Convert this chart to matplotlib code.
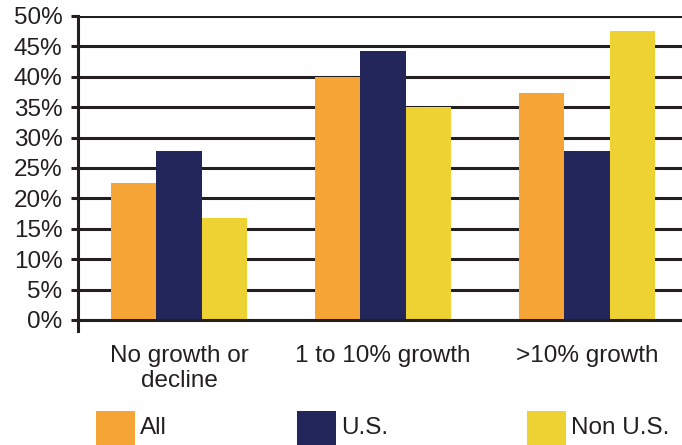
#!/usr/bin/env python3
"""Grouped bar chart: share of respondents by expected growth"""

import numpy as np
import matplotlib
matplotlib.use('Agg')
import matplotlib.pyplot as plt
from matplotlib.patches import Rectangle

categories = ['No growth or\ndecline', '1 to 10% growth', '>10% growth']
series = ['All', 'U.S.', 'Non U.S.']
all_vals = [22.5, 40.0, 37.3]
us_vals = [27.8, 44.2, 27.8]
nonus_vals = [16.8, 35.0, 47.5]
yticks = [0, 5, 10, 15, 20, 25, 30, 35, 40, 45, 50]

colors = ['#F7A437', '#22265A', '#EED233']
ink = '#231F20'

##########################################################
def main():
    plt.rcParams['font.family'] = ['Liberation Sans', 'DejaVu Sans']

    W, H = 682, 445
    fig = plt.figure(figsize=(W / 100, H / 100), dpi=100)
    ax = fig.add_axes([77.7 / W, 1 - 320 / H, 1 - 77.7 / W, 304 / H])

    x = np.arange(len(categories))
    w = 0.223
    for i, vals in enumerate([all_vals, us_vals, nonus_vals]):
        ax.bar(x + (i - 1) * w, vals, w, color=colors[i], linewidth=0,
               label=series[i], zorder=2)

    ax.set_xlim(-0.497, 2.466)
    ax.set_ylim(0, 50)
    ax.set_yticks(yticks)
    ax.set_yticklabels(['{}%'.format(v) for v in yticks])
    ax.set_xticks(x)
    ax.set_xticklabels(categories, linespacing=1.2)

    ax.yaxis.grid(True, color=ink, linewidth=2.2)
    ax.set_axisbelow(True)
    ax.tick_params(axis='y', length=5, width=2.2, color=ink, pad=6,
                   labelsize=17.5, labelcolor=ink)
    ax.tick_params(axis='x', length=0, pad=18, labelsize=17.5, labelcolor=ink)

    for s in ['top', 'right', 'left']:
        ax.spines[s].set_visible(False)
    ax.spines['bottom'].set_color(ink)
    ax.spines['bottom'].set_linewidth(2.2)
    ax.spines['bottom'].set_zorder(3)
    # left axis line runs a little below zero
    ax.axvline(-0.497, ymin=-11 / 304, ymax=1, color=ink, lw=2.2,
               clip_on=False, zorder=3)

    # legend swatches along the bottom edge
    sw_x = [96, 297, 527]
    for i, lab in enumerate(series):
        fig.add_artist(Rectangle((sw_x[i] / W, 0), 39 / W, 34 / H,
                                 transform=fig.transFigure,
                                 color=colors[i], lw=0))
        fig.text((sw_x[i] + 44) / W, 1 - 428 / H, lab, fontsize=17.5,
                 color=ink, va='center', ha='left')

    fig.savefig('out.png', dpi=100)

##########################################################
if __name__ == "__main__":
    main()
